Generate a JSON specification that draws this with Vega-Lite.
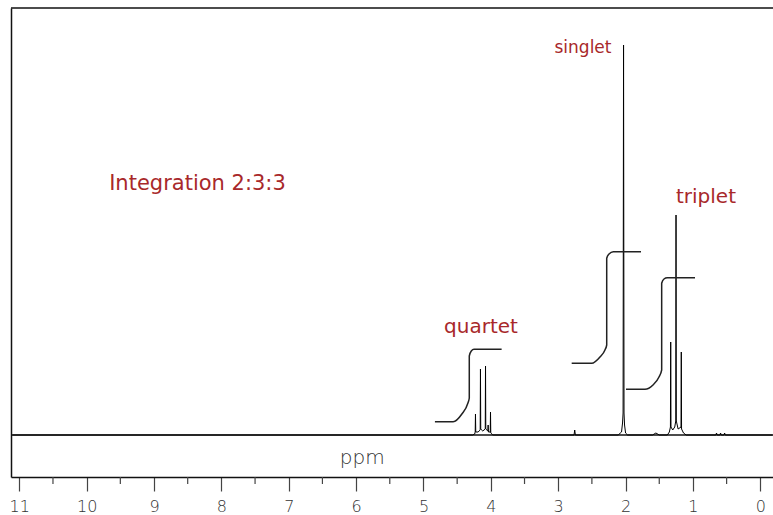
{
  "$schema": "https://vega.github.io/schema/vega-lite/v6.json",
  "autosize": "none",
  "padding": {"left": 11, "top": 8, "right": 0, "bottom": 38},
  "width": 762,
  "height": 469,
  "background": "white",
  "config": {"view": {"stroke": null}},
  "datasets": {
    "frame": [{"ppm": -0.1885, "ppm2": 11.123, "v": 0}, {"ppm": -0.1885, "ppm2": 11.123, "v": 427}],
    "minor": [
      {"ppm": 0.5, "v": -42, "v2": -49}, {"ppm": 1.5, "v": -42, "v2": -49}, {"ppm": 2.5, "v": -42, "v2": -49},
      {"ppm": 3.5, "v": -42, "v2": -49}, {"ppm": 4.5, "v": -42, "v2": -49}, {"ppm": 5.5, "v": -42, "v2": -49},
      {"ppm": 6.5, "v": -42, "v2": -49}, {"ppm": 7.5, "v": -42, "v2": -49}, {"ppm": 8.5, "v": -42, "v2": -49},
      {"ppm": 9.5, "v": -42, "v2": -49}, {"ppm": 10.5, "v": -42, "v2": -49}
    ],
    "spectrum": [
      {"ppm": 11.1, "v": 0}, {"ppm": 4.27, "v": 0}, {"ppm": 4.24, "v": 1},
      {"ppm": 4.232, "v": 3}, {"ppm": 4.228, "v": 21}, {"ppm": 4.224, "v": 3},
      {"ppm": 4.19, "v": 3}, {"ppm": 4.158, "v": 5}, {"ppm": 4.154, "v": 66}, {"ppm": 4.15, "v": 6},
      {"ppm": 4.12, "v": 4}, {"ppm": 4.083, "v": 6}, {"ppm": 4.079, "v": 69}, {"ppm": 4.075, "v": 6},
      {"ppm": 4.045, "v": 4}, {"ppm": 4.04, "v": 10}, {"ppm": 4.035, "v": 3},
      {"ppm": 4.009, "v": 3}, {"ppm": 4.005, "v": 23}, {"ppm": 4.001, "v": 2}, {"ppm": 3.97, "v": 0},
      {"ppm": 2.765, "v": 0}, {"ppm": 2.755, "v": 5}, {"ppm": 2.745, "v": 0},
      {"ppm": 2.11, "v": 0}, {"ppm": 2.06, "v": 3}, {"ppm": 2.045, "v": 12}, {"ppm": 2.037, "v": 22},
      {"ppm": 2.03, "v": 390}, {"ppm": 2.023, "v": 22}, {"ppm": 2.015, "v": 10}, {"ppm": 2.0, "v": 2},
      {"ppm": 1.97, "v": 0}, {"ppm": 1.6, "v": 0}, {"ppm": 1.55, "v": 2}, {"ppm": 1.5, "v": 0},
      {"ppm": 1.38, "v": 0}, {"ppm": 1.35, "v": 3}, {"ppm": 1.334, "v": 8}, {"ppm": 1.33, "v": 93},
      {"ppm": 1.326, "v": 8}, {"ppm": 1.3, "v": 5}, {"ppm": 1.27, "v": 8}, {"ppm": 1.255, "v": 14},
      {"ppm": 1.251, "v": 220}, {"ppm": 1.247, "v": 14}, {"ppm": 1.22, "v": 6}, {"ppm": 1.177, "v": 8},
      {"ppm": 1.173, "v": 83}, {"ppm": 1.169, "v": 6}, {"ppm": 1.14, "v": 2}, {"ppm": 1.1, "v": 0},
      {"ppm": 0.66, "v": 0}, {"ppm": 0.65, "v": 2}, {"ppm": 0.64, "v": 0},
      {"ppm": 0.6, "v": 0}, {"ppm": 0.59, "v": 2}, {"ppm": 0.58, "v": 0},
      {"ppm": 0.54, "v": 0}, {"ppm": 0.53, "v": 2}, {"ppm": 0.52, "v": 0},
      {"ppm": -0.18, "v": 0}
    ],
    "integrals": [
      {"c": "quartet", "k": 1, "ppm": 4.83, "v": 13.3},
      {"c": "quartet", "k": 2, "ppm": 4.56, "v": 13.3},
      {"c": "quartet", "k": 3, "ppm": 4.43, "v": 21},
      {"c": "quartet", "k": 4, "ppm": 4.34, "v": 32},
      {"c": "quartet", "k": 5, "ppm": 4.32, "v": 37},
      {"c": "quartet", "k": 6, "ppm": 4.32, "v": 79},
      {"c": "quartet", "k": 7, "ppm": 4.29, "v": 84},
      {"c": "quartet", "k": 8, "ppm": 4.25, "v": 85.7},
      {"c": "quartet", "k": 9, "ppm": 3.84, "v": 85.7},
      {"c": "singlet", "k": 1, "ppm": 2.8, "v": 71.7},
      {"c": "singlet", "k": 2, "ppm": 2.503, "v": 71.7},
      {"c": "singlet", "k": 3, "ppm": 2.38, "v": 78},
      {"c": "singlet", "k": 4, "ppm": 2.306, "v": 85},
      {"c": "singlet", "k": 5, "ppm": 2.28, "v": 90},
      {"c": "singlet", "k": 6, "ppm": 2.28, "v": 176.7},
      {"c": "singlet", "k": 7, "ppm": 2.246, "v": 181},
      {"c": "singlet", "k": 8, "ppm": 2.182, "v": 183.3},
      {"c": "singlet", "k": 9, "ppm": 1.771, "v": 183.3},
      {"c": "triplet", "k": 1, "ppm": 1.994, "v": 45.7},
      {"c": "triplet", "k": 2, "ppm": 1.712, "v": 45.7},
      {"c": "triplet", "k": 3, "ppm": 1.593, "v": 50},
      {"c": "triplet", "k": 4, "ppm": 1.504, "v": 58},
      {"c": "triplet", "k": 5, "ppm": 1.464, "v": 65},
      {"c": "triplet", "k": 6, "ppm": 1.464, "v": 151.7},
      {"c": "triplet", "k": 7, "ppm": 1.43, "v": 156},
      {"c": "triplet", "k": 8, "ppm": 1.381, "v": 157.3},
      {"c": "triplet", "k": 9, "ppm": 0.969, "v": 157.3}
    ],
    "labels": [
      {"t": "singlet", "ppm": 2.632, "v": 387},
      {"t": "triplet", "ppm": 0.806, "v": 238},
      {"t": "quartet", "ppm": 4.146, "v": 108},
      {"t": "Integration  2:3:3", "ppm": 8.355, "v": 251}
    ],
    "axislabel": [{"t": "ppm", "ppm": 5.91, "v": -23}]
  },
  "encoding": {
    "x": {
      "field": "ppm", "type": "quantitative",
      "scale": {"domain": [-0.1885, 11.123], "reverse": true, "nice": false, "zero": false},
      "axis": {
        "values": [0, 1, 2, 3, 4, 5, 6, 7, 8, 9, 10, 11],
        "format": "d",
        "orient": "bottom", "grid": false, "title": null,
        "domainColor": "#111", "domainWidth": 1.5,
        "tickColor": "#444", "tickWidth": 1.2, "tickSize": 14,
        "labelFont": "DejaVu Sans", "labelFontSize": 16, "labelFontWeight": 200,
        "labelColor": "#333", "labelPadding": 7, "labelFlush": false, "labelOverlap": false
      }
    },
    "y": {
      "field": "v", "type": "quantitative",
      "scale": {"domain": [-42, 427], "nice": false, "zero": false},
      "axis": {"orient": "left", "ticks": false, "labels": false, "grid": false, "title": null,
               "domainColor": "#111", "domainWidth": 1.5}
    }
  },
  "layer": [
    {
      "data": {"name": "frame"},
      "mark": {"type": "rule", "color": "#111", "strokeWidth": 1.5},
      "encoding": {"x2": {"field": "ppm2"}}
    },
    {
      "data": {"name": "minor"},
      "mark": {"type": "rule", "color": "#444", "strokeWidth": 1.2, "clip": false},
      "encoding": {"y2": {"field": "v2"}}
    },
    {
      "data": {"name": "spectrum"},
      "mark": {"type": "line", "color": "#000", "strokeWidth": 1, "clip": true},
      "encoding": {
        "order": {"field": "ppm", "type": "quantitative", "sort": "descending"}
      }
    },
    {
      "data": {"name": "integrals"},
      "mark": {"type": "line", "color": "#222", "strokeWidth": 1.5, "interpolate": "monotone"},
      "encoding": {
        "detail": {"field": "c"},
        "order": {"field": "k", "type": "quantitative"}
      }
    },
    {
      "data": {"name": "labels"},
      "transform": [{"filter": "datum.t === 'singlet'"}],
      "mark": {"type": "text", "color": "#a8282a", "font": "DejaVu Sans", "fontSize": 17, "align": "center", "baseline": "middle"},
      "encoding": {"text": {"field": "t"}}
    },
    {
      "data": {"name": "labels"},
      "transform": [{"filter": "datum.t === 'triplet' || datum.t === 'quartet'"}],
      "mark": {"type": "text", "color": "#a8282a", "font": "DejaVu Sans", "fontSize": 20, "align": "center", "baseline": "middle"},
      "encoding": {"text": {"field": "t"}}
    },
    {
      "data": {"name": "labels"},
      "transform": [{"filter": "indexof(datum.t, 'Integration') === 0"}],
      "mark": {"type": "text", "color": "#a8282a", "font": "DejaVu Sans", "fontSize": 21, "align": "center", "baseline": "middle"},
      "encoding": {"text": {"field": "t"}}
    },
    {
      "data": {"name": "axislabel"},
      "mark": {"type": "text", "color": "#333", "font": "DejaVu Sans", "fontSize": 20, "fontWeight": 200, "align": "center", "baseline": "middle"},
      "encoding": {"text": {"field": "t"}}
    }
  ]
}
